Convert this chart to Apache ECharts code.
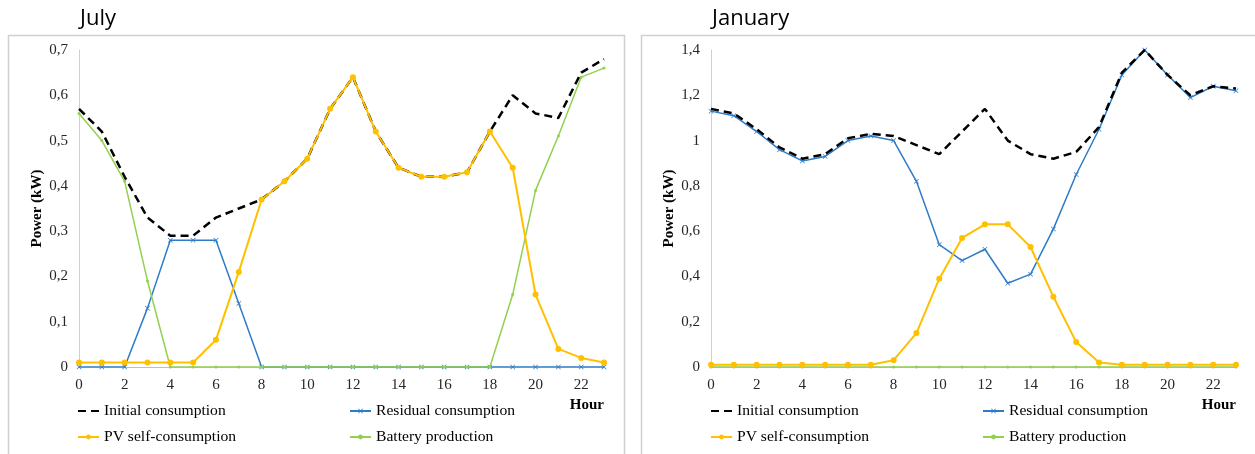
<!DOCTYPE html>
<html><head><meta charset="utf-8">
<script src="https://cdn.jsdelivr.net/npm/echarts@6/dist/echarts.min.js"></script>
<style>html,body{margin:0;padding:0;background:#fff}#c{width:1255px;height:454px}</style>
</head><body><div id="c"></div>
<script>
const hours = ['0','1','2','3','4','5','6','7','8','9','10','11','12','13','14','15','16','17','18','19','20','21','22','23'];
const seriesNames = ['Initial consumption','Residual consumption','PV self-consumption','Battery production'];
// July
const julyInitial  = [0.57,0.52,0.42,0.33,0.29,0.29,0.33,0.35,0.37,0.41,0.46,0.57,0.64,0.52,0.44,0.42,0.42,0.43,0.52,0.60,0.56,0.55,0.65,0.68];
const julyResidual = [0,0,0,0.13,0.28,0.28,0.28,0.14,0,0,0,0,0,0,0,0,0,0,0,0,0,0,0,0];
const julyPV       = [0.01,0.01,0.01,0.01,0.01,0.01,0.06,0.21,0.37,0.41,0.46,0.57,0.64,0.52,0.44,0.42,0.42,0.43,0.52,0.44,0.16,0.04,0.02,0.01];
const julyBattery  = [0.56,0.50,0.41,0.19,0,0,0,0,0,0,0,0,0,0,0,0,0,0,0,0.16,0.39,0.51,0.64,0.66];
// January
const janInitial  = [1.14,1.12,1.05,0.97,0.92,0.94,1.01,1.03,1.02,0.98,0.94,1.04,1.14,1.00,0.94,0.92,0.95,1.06,1.30,1.40,1.29,1.20,1.24,1.23];
const janResidual = [1.13,1.11,1.04,0.96,0.91,0.93,1.00,1.02,1.00,0.82,0.54,0.47,0.52,0.37,0.41,0.61,0.85,1.05,1.29,1.40,1.29,1.19,1.24,1.22];
const janPV       = [0.01,0.01,0.01,0.01,0.01,0.01,0.01,0.01,0.03,0.15,0.39,0.57,0.63,0.63,0.53,0.31,0.11,0.02,0.01,0.01,0.01,0.01,0.01,0.01];
const janBattery  = [0,0,0,0,0,0,0,0,0,0,0,0,0,0,0,0,0,0,0,0,0,0,0,0];

const SERIF = '"Liberation Serif","Times New Roman",serif';
const SANS = '"Open Sans","Noto Sans",sans-serif';
const C_BLUE = '#2e7bc6', C_PV = '#ffc000', C_GREEN = '#92d050';
const crossPath = 'path://M0,1L1,0L5,4L9,0L10,1L6,5L10,9L9,10L5,6L1,10L0,9L4,5Z';
const fmt = v => String(Math.round(v * 10) / 10).replace('.', ',');

function xAxis(gi) {
  return {
    type: 'category', gridIndex: gi, data: hours, boundaryGap: false,
    axisLine: { lineStyle: { color: '#bfbfbf', width: 1 } },
    axisTick: { show: false },
    axisLabel: { interval: 1, margin: 11, fontFamily: SERIF, fontSize: 15, color: '#262626' },
    name: 'Hour', nameLocation: 'end', nameGap: 0,
    nameTextStyle: { fontFamily: SERIF, fontSize: 15, fontWeight: 'bold', color: '#000',
      align: 'right', verticalAlign: 'top', padding: [31, 0, 0, 0] }
  };
}
function yAxis(gi, max, interval) {
  return {
    type: 'value', gridIndex: gi, min: 0, max: max, interval: interval,
    axisLine: { show: true, lineStyle: { color: '#d0d0d0', width: 1 } },
    axisTick: { show: false }, splitLine: { show: false },
    axisLabel: { formatter: fmt, margin: 11, fontFamily: SERIF, fontSize: 15, color: '#262626' },
    name: 'Power (kW)', nameLocation: 'middle', nameGap: 34,
    nameTextStyle: { fontFamily: SERIF, fontSize: 15, fontWeight: 'bold', color: '#000' }
  };
}
function mkSeries(gi, initial, residual, pv, battery) {
  return [
    { name: seriesNames[1], type: 'line', xAxisIndex: gi, yAxisIndex: gi, data: residual,
      symbol: crossPath, symbolSize: 5,
      lineStyle: { color: C_BLUE, width: 1.5 }, itemStyle: { color: C_BLUE }, z: 2 },
    { name: seriesNames[3], type: 'line', xAxisIndex: gi, yAxisIndex: gi, data: battery,
      symbol: 'circle', symbolSize: 3,
      lineStyle: { color: C_GREEN, width: 1.5 }, itemStyle: { color: C_GREEN }, z: 3 },
    { name: seriesNames[0], type: 'line', xAxisIndex: gi, yAxisIndex: gi, data: initial,
      showSymbol: false, symbol: 'none',
      lineStyle: { color: '#000', width: 2.5, type: [8, 5] }, itemStyle: { color: '#000' }, z: 4 },
    { name: seriesNames[2], type: 'line', xAxisIndex: gi, yAxisIndex: gi, data: pv,
      symbol: 'circle', symbolSize: 6,
      lineStyle: { color: C_PV, width: 2 }, itemStyle: { color: C_PV }, z: 5 }
  ];
}
function legend(left, items) {
  return {
    left: left, top: 403, padding: 0, orient: 'vertical', itemGap: 10, itemWidth: 21, itemHeight: 6,
    data: items, selectedMode: false,
    textStyle: { fontFamily: SERIF, fontSize: 15.6, color: '#000' }
  };
}
const legCol1 = [
  { name: seriesNames[0], itemStyle: { color: 'rgba(0,0,0,0)', borderWidth: 0 } },
  { name: seriesNames[2] }
];
const legCol2 = [{ name: seriesNames[1] }, { name: seriesNames[3] }];

const chart = echarts.init(document.getElementById('c'), null, { renderer: 'canvas' });
chart.setOption({
  animation: false,
  backgroundColor: '#fff',
  graphic: [
    { type: 'rect', shape: { x: 8.5, y: 35.5, width: 616, height: 440 }, style: { fill: 'none', stroke: '#d0d0d0', lineWidth: 1.5 }, silent: true, z: -10 },
    { type: 'rect', shape: { x: 641.5, y: 35.5, width: 640, height: 440 }, style: { fill: 'none', stroke: '#d0d0d0', lineWidth: 1.5 }, silent: true, z: -10 }
  ],
  title: [
    { text: 'July', left: 75, top: 3, textStyle: { fontFamily: SANS, fontSize: 22, fontWeight: 'normal', color: '#000' } },
    { text: 'January', left: 707, top: 3, textStyle: { fontFamily: SANS, fontSize: 22, fontWeight: 'normal', color: '#000' } }
  ],
  grid: [
    { left: 79, right: 651, top: 50, bottom: 87 },
    { left: 711, right: 19, top: 50, bottom: 87 }
  ],
  xAxis: [xAxis(0), xAxis(1)],
  yAxis: [yAxis(0, 0.7, 0.1), yAxis(1, 1.4, 0.2)],
  legend: [
    legend(77, legCol1),
    legend(349, legCol2),
    legend(710, legCol1),
    legend(982, legCol2)
  ],
  series: [].concat(
    mkSeries(0, julyInitial, julyResidual, julyPV, julyBattery),
    mkSeries(1, janInitial, janResidual, janPV, janBattery)
  )
});
</script></body></html>
